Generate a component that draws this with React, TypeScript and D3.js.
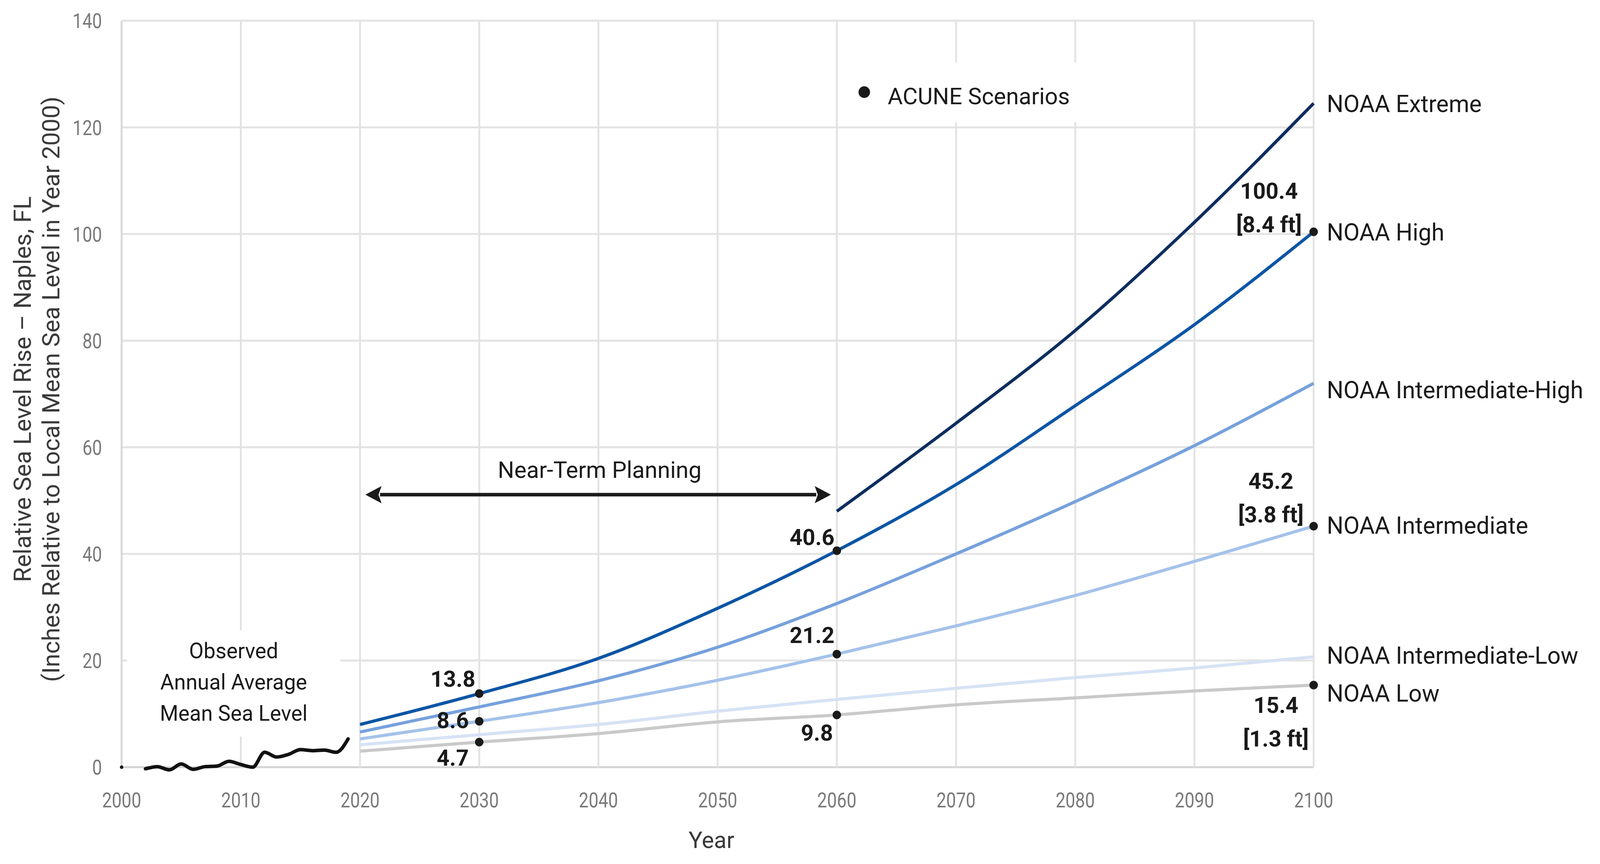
import { scaleLinear, line as d3Line, curveMonotoneX, range } from "d3";

const W = 4157;
const H = 2213;
const margin = { top: 53, right: 744, bottom: 248, left: 316 };

// projection years and scenario values (inches, relative to 2000 MSL)
const projYears = [2020, 2030, 2040, 2050, 2060, 2070, 2080, 2090, 2100];
const lowValues = [3.0, 4.7, 6.3, 8.5, 9.8, 11.7, 13.0, 14.3, 15.4];
const intLowValues = [4.2, 6.1, 8.0, 10.5, 12.7, 14.8, 16.8, 18.6, 20.7];
const intermediateValues = [5.3, 8.6, 12.1, 16.3, 21.2, 26.5, 32.2, 38.6, 45.2];
const intHighValues = [6.6, 11.3, 16.2, 22.5, 30.7, 40.0, 49.8, 60.3, 72.0];
const highValues = [8.0, 13.8, 20.4, 29.8, 40.6, 53.0, 67.8, 83.0, 100.4];
const extremeYears = [2060, 2070, 2080, 2090, 2100];
const extremeValues = [48.0, 64.5, 81.9, 102.2, 124.5];

// observed annual average MSL
const observedYears = [
  2000, 2001, 2002, 2003, 2004, 2005, 2006, 2007, 2008, 2009, 2010, 2011, 2012,
  2013, 2014, 2015, 2016, 2017, 2018, 2019,
];
const observedValues: Array<number | null> = [
  0, null, -0.3, 0.1, -0.5, 0.6, -0.4, 0.1, 0.2, 1.1, 0.5, 0.0, 2.8, 1.9, 2.4,
  3.3, 3.1, 3.2, 2.8, 5.3,
];

const scenarioNames = [
  "NOAA Extreme",
  "NOAA High",
  "NOAA Intermediate-High",
  "NOAA Intermediate",
  "NOAA Intermediate-Low",
  "NOAA Low",
];
const scenarioLabelValues = [124.5, 100.4, 70.8, 45.4, 21.0, 13.9];

// ACUNE scenario points
const acuneYears = [2030, 2030, 2030, 2060, 2060, 2060, 2100, 2100, 2100];
const acuneValues = [13.8, 8.6, 4.7, 40.6, 21.2, 9.8, 100.4, 45.2, 15.4];
const acuneFeet = ["", "", "", "", "", "", "[8.4 ft]", "[3.8 ft]", "[1.3 ft]"];

const yTickValues = range(0, 141, 20);
const xTickValues = range(2000, 2101, 10);

const nearTermSpan = [2020.45, 2059.5];
const nearTermValue = 51.1;

// styling / layout
const colors = {
  extreme: "#0c2d5f",
  high: "#0b55a5",
  intHigh: "#76a1dc",
  intermediate: "#a4c2ea",
  intLow: "#d6e3f5",
  low: "#c9c9c9",
  grid: "#e3e3e3",
  text: "#1a1a1a",
  tick: "#7a7a7a",
};
const labelFont = "Roboto, 'Noto Sans', sans-serif";

const acuneLabelLayout = [
  { dx: -10, dy: -18, anchor: "end" },
  { dx: -27, dy: 17, anchor: "end" },
  { dx: -27, dy: 60, anchor: "end" },
  { dx: -6, dy: -15, anchor: "end" },
  { dx: -6, dy: -28, anchor: "end" },
  { dx: -10, dy: 66, anchor: "end" },
  { dx: -116, dy: -85, anchor: "middle" },
  { dx: -111, dy: -96, anchor: "middle" },
  { dx: -98, dy: 71, anchor: "middle" },
];

export default function App() {
  const innerW = W - margin.left - margin.right;
  const innerH = H - margin.top - margin.bottom;

  const x = scaleLinear().domain([2000, 2100]).range([margin.left, margin.left + innerW]);
  const y = scaleLinear().domain([0, 140]).range([margin.top + innerH, margin.top]);

  const lineGen = d3Line<[number, number | null]>()
    .defined((d) => d[1] !== null)
    .x((d) => x(d[0]))
    .y((d) => y(d[1] as number))
    .curve(curveMonotoneX);

  const zip = (xs: number[], vs: Array<number | null>) =>
    xs.map((v, i) => [v, vs[i]] as [number, number | null]);

  const scenarios = [
    { key: "low", values: zip(projYears, lowValues), color: colors.low },
    { key: "intLow", values: zip(projYears, intLowValues), color: colors.intLow },
    { key: "intermediate", values: zip(projYears, intermediateValues), color: colors.intermediate },
    { key: "intHigh", values: zip(projYears, intHighValues), color: colors.intHigh },
    { key: "high", values: zip(projYears, highValues), color: colors.high },
    { key: "extreme", values: zip(extremeYears, extremeValues), color: colors.extreme },
  ];

  const observedPath = lineGen(zip(observedYears, observedValues)) ?? "";

  // arrow
  const ax0 = x(nearTermSpan[0]);
  const ax1 = x(nearTermSpan[1]);
  const ay = y(nearTermValue);
  const headL = 42;
  const headW = 22;

  // legend anchor
  const legendX = x(2062.3);
  const legendY = y(126.6);

  // observed label anchor
  const obsX = x(2009.4);
  const obsY = y(20.4);

  return (
    <>
      <style>{`html,body{margin:0;padding:0;overflow:hidden;background:#fff}`}</style>
      <svg
        viewBox={`0 0 ${W} ${H}`}
        preserveAspectRatio="none"
        style={{ display: "block", width: "100vw", height: "100vh", background: "#fff" }}
      >
        {/* grid */}
        {yTickValues.map((t) => (
          <line
            key={`gy-${t}`}
            x1={margin.left}
            x2={margin.left + innerW}
            y1={y(t)}
            y2={y(t)}
            stroke={t === 0 ? "#d4d4d4" : colors.grid}
            strokeWidth={5}
          />
        ))}
        {xTickValues.map((t) => (
          <line
            key={`gx-${t}`}
            x1={x(t)}
            x2={x(t)}
            y1={margin.top}
            y2={margin.top + innerH}
            stroke={t === 2000 ? "#d8d8d8" : colors.grid}
            strokeWidth={5}
          />
        ))}

        {/* white boxes behind legend and observed text */}
        <rect x={legendX - 40} y={legendY - 76} width={610} height={153} fill="#fff" />
        <rect x={obsX - 277} y={obsY - 72} width={554} height={272} fill="#fff" />

        {/* tick labels (condensed) */}
        {yTickValues.map((t) => (
          <text
            key={`ty-${t}`}
            transform={`translate(${margin.left - 51}, ${y(t)}) scale(0.84, 1)`}
            dy="0.36em"
            textAnchor="end"
            fontFamily={labelFont}
            fontSize={54}
            fill={colors.tick}
          >
            {t}
          </text>
        ))}
        {xTickValues.map((t) => (
          <text
            key={`tx-${t}`}
            transform={`translate(${x(t)}, ${margin.top + innerH + 103}) scale(0.84, 1)`}
            textAnchor="middle"
            fontFamily={labelFont}
            fontSize={54}
            fill={colors.tick}
          >
            {t}
          </text>
        ))}

        {/* axis titles */}
        <g transform={`translate(58, ${margin.top + innerH / 2 - 12}) rotate(-90)`}>
          <text textAnchor="middle" dy="0.35em" fontFamily={labelFont} fontSize={62} fill="#3a3a3a">
            Relative Sea Level Rise – Naples, FL
          </text>
        </g>
        <g transform={`translate(133, ${margin.top + innerH / 2 - 12}) rotate(-90)`}>
          <text textAnchor="middle" dy="0.35em" fontFamily={labelFont} fontSize={62} fill="#3a3a3a">
            (Inches Relative to Local Mean Sea Level in Year 2000)
          </text>
        </g>
        <text
          x={margin.left + innerW / 2 - 16}
          y={2172}
          textAnchor="middle"
          fontFamily={labelFont}
          fontSize={60}
          fill="#3a3a3a"
        >
          Year
        </text>

        {/* scenario lines */}
        {scenarios.map((s) => (
          <path
            key={s.key}
            d={lineGen(s.values) ?? ""}
            fill="none"
            stroke={s.color}
            strokeWidth={8}
          />
        ))}

        {/* observed */}
        <path
          d={observedPath}
          fill="none"
          stroke="#111"
          strokeWidth={9}
          strokeLinejoin="round"
          strokeLinecap="round"
        />
        <text textAnchor="middle" fontFamily={labelFont} fontSize={55} fill={colors.text}>
          {["Observed", "Annual Average", "Mean Sea Level"].map((t, i) => (
            <tspan key={t} x={obsX} y={obsY + i * 80}>
              {t}
            </tspan>
          ))}
        </text>

        {/* near-term planning arrow */}
        <line x1={ax0 + headL - 4} x2={ax1 - headL + 4} y1={ay} y2={ay} stroke="#1a1a1a" strokeWidth={9} />
        <path
          d={`M${ax0},${ay} L${ax0 + headL},${ay - headW} L${ax0 + headL - 8},${ay} L${ax0 + headL},${ay + headW} Z`}
          fill="#1a1a1a"
        />
        <path
          d={`M${ax1},${ay} L${ax1 - headL},${ay - headW} L${ax1 - headL + 8},${ay} L${ax1 - headL},${ay + headW} Z`}
          fill="#1a1a1a"
        />
        <text
          x={(ax0 + ax1) / 2 + 4}
          y={ay - 43}
          textAnchor="middle"
          fontFamily={labelFont}
          fontSize={60}
          fill={colors.text}
        >
          Near-Term Planning
        </text>

        {/* ACUNE points and labels */}
        {acuneYears.map((yr, i) => {
          const px = x(yr);
          const py = y(acuneValues[i]);
          const lay = acuneLabelLayout[i];
          return (
            <g key={`acune-${i}`}>
              <circle cx={px} cy={py} r={11} fill="#1a1a1a" />
              <text
                textAnchor={lay.anchor}
                fontFamily={labelFont}
                fontWeight={700}
                fontSize={58}
                fill={colors.text}
              >
                <tspan x={px + lay.dx} y={py + lay.dy}>
                  {acuneValues[i].toFixed(1)}
                </tspan>
                {acuneFeet[i] && (
                  <tspan x={px + lay.dx} y={py + lay.dy + 86}>
                    {acuneFeet[i]}
                  </tspan>
                )}
              </text>
            </g>
          );
        })}

        {/* legend */}
        <circle cx={legendX} cy={legendY} r={15} fill="#1a1a1a" />
        <text x={legendX + 61} y={legendY + 31} fontFamily={labelFont} fontSize={60} fill={colors.text}>
          ACUNE Scenarios
        </text>

        {/* scenario names */}
        {scenarioNames.map((n, i) => (
          <text
            key={n}
            x={x(2100) + 34}
            y={y(scenarioLabelValues[i])}
            dy="0.36em"
            fontFamily={labelFont}
            fontSize={61}
            fill={colors.text}
          >
            {n}
          </text>
        ))}
      </svg>
    </>
  );
}
